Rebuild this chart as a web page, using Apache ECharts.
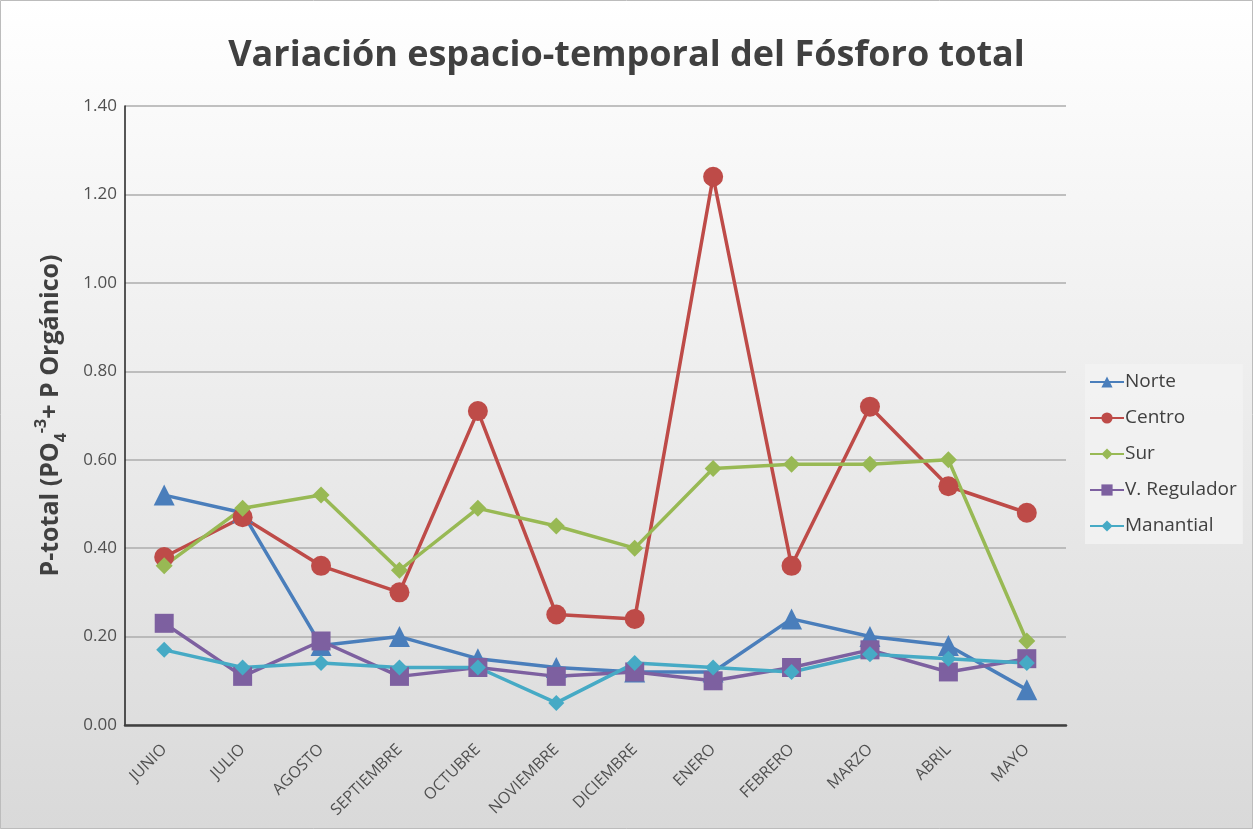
<!DOCTYPE html>
<html>
<head>
<meta charset="utf-8">
<script src="https://cdn.jsdelivr.net/npm/echarts@6/dist/echarts.min.js"></script>
<style>
  html, body { margin: 0; padding: 0; background: #fff; }
  #chart { width: 1253px; height: 829px; }
</style>
</head>
<body>
<div id="chart"></div>
<script>
// meses y valores
const meses = ['JUNIO', 'JULIO', 'AGOSTO', 'SEPTIEMBRE', 'OCTUBRE', 'NOVIEMBRE',
  'DICIEMBRE', 'ENERO', 'FEBRERO', 'MARZO', 'ABRIL', 'MAYO'];
const norte = [0.52, 0.48, 0.18, 0.20, 0.15, 0.13, 0.12, 0.12, 0.24, 0.20, 0.18, 0.08];
const centro = [0.38, 0.47, 0.36, 0.30, 0.71, 0.25, 0.24, 1.24, 0.36, 0.72, 0.54, 0.48];
const sur = [0.36, 0.49, 0.52, 0.35, 0.49, 0.45, 0.40, 0.58, 0.59, 0.59, 0.60, 0.19];
const vRegulador = [0.23, 0.11, 0.19, 0.11, 0.13, 0.11, 0.12, 0.10, 0.13, 0.17, 0.12, 0.15];
const manantial = [0.17, 0.13, 0.14, 0.13, 0.13, 0.05, 0.14, 0.13, 0.12, 0.16, 0.15, 0.14];

let chart = echarts.init(document.getElementById('chart'));

function serie(name, data, color, symbol, size) {
  return {
    name: name,
    type: 'line',
    data: data,
    symbol: symbol,
    symbolSize: size,
    showAllSymbol: true,
    lineStyle: { color: color, width: 3.5 },
    itemStyle: { color: color },
    emphasis: { disabled: true }
  };
}

let option = {
  backgroundColor: new echarts.graphic.LinearGradient(0, 0, 0, 1, [
    { offset: 0, color: '#ffffff' },
    { offset: 1, color: '#d9d9d9' }
  ]),
  textStyle: { fontFamily: 'Open Sans' },
  animation: false,
  title: {
    text: 'Variación espacio-temporal del Fósforo total',
    left: 'center',
    top: 33,
    textStyle: { fontSize: 36, fontWeight: 'bold', color: '#404040', fontFamily: 'Open Sans' }
  },
  graphic: [{
    type: 'rect',
    shape: { x: 0.5, y: 0.5, width: 1252, height: 828 },
    style: { fill: 'none', stroke: '#bcbcbc', lineWidth: 1 },
    silent: true
  }],
  legend: {
    orient: 'vertical',
    left: 1085,
    top: 364,
    width: 166,
    padding: [8, 6, 8, 4],
    backgroundColor: 'rgba(242,242,242,0.9)',
    itemWidth: 34,
    itemHeight: 14,
    itemGap: 16,
    textStyle: { fontSize: 19, lineHeight: 20, color: '#404040', padding: [0, 0, 0, -4] },
    data: ['Norte', 'Centro', 'Sur', 'V. Regulador', 'Manantial']
  },
  grid: { left: 125, right: 187, top: 106, bottom: 104 },
  xAxis: {
    type: 'category',
    data: meses,
    boundaryGap: true,
    axisLine: { lineStyle: { color: '#404040', width: 2.5 } },
    axisTick: { show: false },
    axisLabel: { rotate: 45, fontSize: 16, color: '#505050', margin: 22, interval: 0 }
  },
  yAxis: {
    type: 'value',
    min: 0,
    max: 1.4,
    interval: 0.2,
    name: '{b|P-total (PO}{sub|4}{sup|-3}{b|+ P Orgánico)}',
    nameLocation: 'middle',
    nameGap: 56,
    nameTextStyle: {
      rich: {
        b: { fontSize: 25, fontWeight: 'bold', color: '#404040', lineHeight: 36, verticalAlign: 'middle', fontFamily: 'Open Sans' },
        sub: { fontSize: 16, fontWeight: 'bold', color: '#404040', lineHeight: 16, verticalAlign: 'bottom', fontFamily: 'Open Sans' },
        sup: { fontSize: 16, fontWeight: 'bold', color: '#404040', lineHeight: 16, verticalAlign: 'top', fontFamily: 'Open Sans' }
      }
    },
    axisLine: { show: true, lineStyle: { color: '#202020', width: 1.5 } },
    axisTick: { show: false },
    axisLabel: {
      fontSize: 17, color: '#505050', margin: 8,
      formatter: function (v) { return v.toFixed(2); }
    },
    splitLine: { lineStyle: { color: '#adadad', width: 1.5 } }
  },
  series: [
    serie('Norte', norte, '#4a7ebb', 'triangle', 21),
    serie('Centro', centro, '#be4b48', 'circle', 20),
    serie('Sur', sur, '#98b954', 'diamond', 17),
    serie('V. Regulador', vRegulador, '#7d60a0', 'rect', 19),
    serie('Manantial', manantial, '#46aac5', 'diamond', 16)
  ]
};
chart.setOption(option);
</script>
</body>
</html>
